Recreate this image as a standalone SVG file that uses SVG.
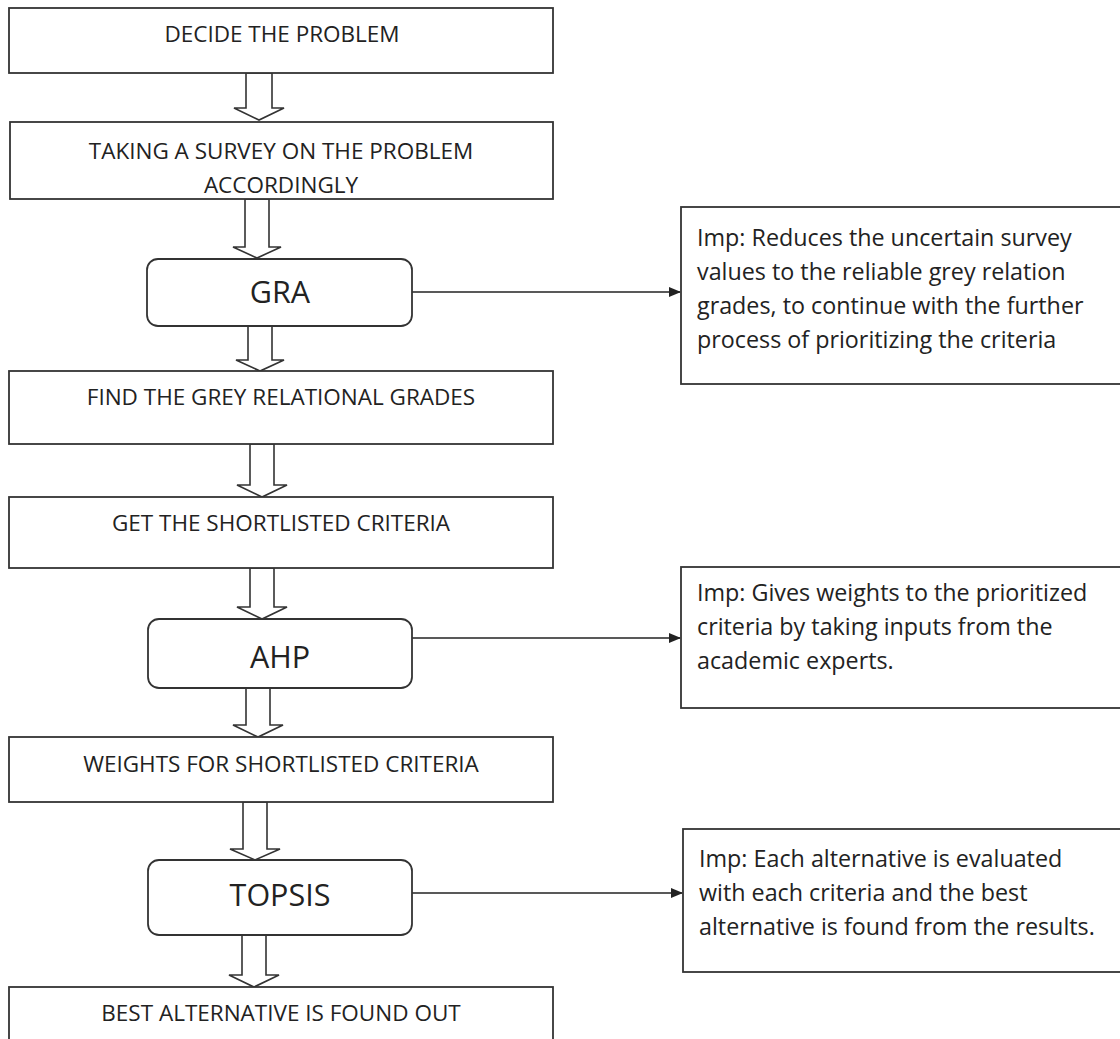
<svg xmlns="http://www.w3.org/2000/svg" width="1120" height="1039" viewBox="0 0 1120 1039">
<style>
.box{fill:#fff;stroke:#333;stroke-width:1.8}
.blk{fill:#fff;stroke:#333;stroke-width:1.6;stroke-linejoin:miter}
.lbl{font-family:"Open Sans","Noto Sans",sans-serif;font-size:22.5px;fill:#222;text-anchor:middle}
.big{font-family:"Open Sans","Noto Sans",sans-serif;font-size:30.5px;fill:#222;text-anchor:middle}
.note{font-family:"Open Sans","Noto Sans",sans-serif;font-size:23.3px;fill:#222}
.con{stroke:#222;stroke-width:1.6;fill:none}
</style>
<defs>
<marker id="ah" markerWidth="12" markerHeight="10" refX="11" refY="5" orient="auto" markerUnits="userSpaceOnUse">
<path d="M0,0 L12,5 L0,10 Z" fill="#222"/>
</marker>
</defs>
<rect width="1120" height="1039" fill="#fff"/>
<g id="connectors">
<path class="blk" d="M246,73 V108 H234 L259,120 L284,108 H272 V73 Z"/>
<path class="blk" d="M245,199 V247 H233 L257,258 L281,247 H269 V199 Z"/>
<path class="blk" d="M248,326 V360 H236 L260,371 L284,360 H272 V326 Z"/>
<path class="blk" d="M250,444 V485 H237 L262,497 L287,485 H274 V444 Z"/>
<path class="blk" d="M250,568 V607 H237 L262,619 L287,607 H274 V568 Z"/>
<path class="blk" d="M246,688 V725 H233 L258,737 L283,725 H270 V688 Z"/>
<path class="blk" d="M243,802 V849 H230 L255,860 L280,849 H267 V802 Z"/>
<path class="blk" d="M242,935 V975 H229 L254,987 L279,975 H266 V935 Z"/>
<line class="con" x1="412" y1="292" x2="680" y2="292" marker-end="url(#ah)"/>
<line class="con" x1="412" y1="638" x2="680" y2="638" marker-end="url(#ah)"/>
<line class="con" x1="412" y1="893" x2="682" y2="893" marker-end="url(#ah)"/>
</g>
<g id="n1"><rect class="box" x="9" y="8" width="544" height="65"/><text class="lbl" x="282" y="42">DECIDE THE PROBLEM</text></g>
<g id="n2"><rect class="box" x="10" y="122" width="543" height="77"/><text class="lbl" x="281" y="159">TAKING A SURVEY ON THE PROBLEM</text><text class="lbl" x="281" y="193">ACCORDINGLY</text></g>
<g id="n3"><rect class="box" x="147" y="259" width="265" height="67" rx="11"/><text class="big" x="280" y="303">GRA</text></g>
<g id="n4"><rect class="box" x="9" y="371" width="544" height="73"/><text class="lbl" x="281" y="405">FIND THE GREY RELATIONAL GRADES</text></g>
<g id="n5"><rect class="box" x="9" y="497" width="544" height="71"/><text class="lbl" x="281" y="531">GET THE SHORTLISTED CRITERIA</text></g>
<g id="n6"><rect class="box" x="148" y="619" width="264" height="69" rx="11"/><text class="big" x="280" y="668">AHP</text></g>
<g id="n7"><rect class="box" x="9" y="737" width="544" height="65"/><text class="lbl" x="281" y="772">WEIGHTS FOR SHORTLISTED CRITERIA</text></g>
<g id="n8"><rect class="box" x="148" y="860" width="264" height="75" rx="11"/><text class="big" x="280" y="906">TOPSIS</text></g>
<g id="n9"><rect class="box" x="9" y="987" width="544" height="60"/><text class="lbl" x="281" y="1021">BEST ALTERNATIVE IS FOUND OUT</text></g>
<g id="note1"><rect class="box" x="681" y="207" width="445" height="177"/>
<text class="note" x="697" y="246">Imp: Reduces the uncertain survey</text>
<text class="note" x="697" y="280">values to the reliable grey relation</text>
<text class="note" x="697" y="314">grades, to continue with the further</text>
<text class="note" x="697" y="348">process of prioritizing the criteria</text></g>
<g id="note2"><rect class="box" x="681" y="567" width="445" height="141"/>
<text class="note" x="697" y="601">Imp: Gives weights to the prioritized</text>
<text class="note" x="697" y="635">criteria by taking inputs from the</text>
<text class="note" x="697" y="669">academic experts.</text></g>
<g id="note3"><rect class="box" x="683" y="829" width="443" height="143"/>
<text class="note" x="699" y="867">Imp: Each alternative is evaluated</text>
<text class="note" x="699" y="901">with each criteria and the best</text>
<text class="note" x="699" y="935">alternative is found from the results.</text></g>
</svg>
